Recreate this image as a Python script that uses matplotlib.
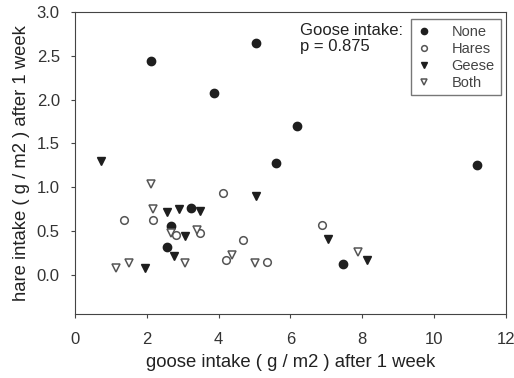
import matplotlib
matplotlib.use('Agg')
import matplotlib.pyplot as plt

plt.rcParams['font.family'] = ['Liberation Sans', 'DejaVu Sans']

# treatment groups: goose intake (x) vs hare intake (y), g/m2 after 1 week
none_x = [2.11, 3.88, 5.03, 5.60, 6.17, 11.2, 3.23, 2.66, 2.57, 7.46]
none_y = [2.44, 2.08, 2.645, 1.275, 1.70, 1.25, 0.76, 0.56, 0.316, 0.12]

hares_x = [4.13, 1.37, 2.18, 2.81, 3.48, 4.69, 4.21, 5.34, 6.87]
hares_y = [0.93, 0.62, 0.62, 0.45, 0.48, 0.40, 0.17, 0.14, 0.57]

geese_x = [0.71, 5.03, 2.57, 2.91, 3.48, 3.07, 2.76, 1.95, 7.06, 8.12]
geese_y = [1.30, 0.894, 0.72, 0.753, 0.73, 0.445, 0.217, 0.08, 0.41, 0.163]

both_x = [2.11, 2.18, 2.66, 3.39, 4.36, 3.06, 5.01, 1.13, 1.51, 7.87]
both_y = [1.035, 0.753, 0.48, 0.51, 0.225, 0.133, 0.133, 0.08, 0.133, 0.255]

fig = plt.figure(figsize=(5.14, 3.78), dpi=100)
ax = fig.add_axes([0.146, 0.169, 0.838, 0.799])

dark = '#1e1e1e'
grey = '#555555'
ms = 6
ax.plot(none_x, none_y, 'o', ms=ms, color=dark, label='None')
ax.plot(hares_x, hares_y, 'o', ms=ms - 0.5, mfc='white', mec=grey, mew=1.1, label='Hares')
ax.plot(geese_x, geese_y, 'v', ms=ms, color=dark, label='Geese')
ax.plot(both_x, both_y, 'v', ms=ms - 0.5, mfc='white', mec=grey, mew=1.1, label='Both')

ax.set_xlim(0, 12)
ax.set_ylim(-0.45, 3.0)
ax.set_xticks(range(0, 13, 2))
ax.set_yticks([0, 0.5, 1.0, 1.5, 2.0, 2.5, 3.0])
ax.set_yticklabels(['0.0', '0.5', '1.0', '1.5', '2.0', '2.5', '3.0'])
ax.tick_params(labelsize=12, labelcolor='#333333', length=3, color='#444444')
ax.tick_params(axis='x', pad=10)
ax.tick_params(axis='y', pad=8)
for s in ax.spines.values():
    s.set_color('#444444')

ax.set_xlabel('goose intake ( g / m2 ) after 1 week', fontsize=13.3, color='#222222', labelpad=5)
ax.set_ylabel('hare intake ( g / m2 ) after 1 week', fontsize=13.3, color='#222222', labelpad=5)

ax.text(6.27, 2.87, 'Goose intake:\np = 0.875', fontsize=12, va='top', color='#222222',
        linespacing=1.05)
leg = ax.legend(loc='upper right', bbox_to_anchor=(0.988, 0.977), fontsize=10.5,
                frameon=True, fancybox=False, edgecolor='#555555',
                handlelength=1.0, handletextpad=1.4, borderpad=0.4,
                labelspacing=0.2, borderaxespad=0, markerscale=0.75)
leg.get_frame().set_linewidth(1.0)
for t in leg.get_texts():
    t.set_color('#444444')

fig.savefig('out.png', dpi=100)
